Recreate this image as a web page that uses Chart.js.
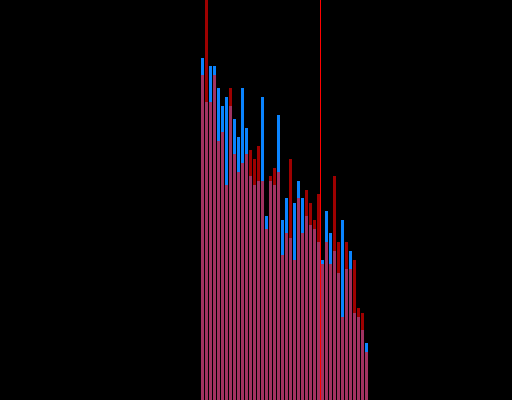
<!DOCTYPE html>
<html>
<head>
<meta charset="utf-8">
<script src="https://cdn.jsdelivr.net/npm/chart.js@4.4.1/dist/chart.umd.min.js"></script>
<style>
  html, body { margin: 0; padding: 0; background: #000; }
  #wrap { width: 512px; height: 400px; position: relative; }
</style>
</head>
<body>
<div id="wrap"><canvas id="chart"></canvas></div>
<script>
// bin positions (x) and the two series
var bins = [50,51,52,53,54,55,56,57,58,59,60,61,62,63,64,65,66,67,68,69,70,
            71,72,73,74,75,76,77,78,79,80,81,82,83,84,85,86,87,88,89,90,91];
var blueValues = [85.5,74.5,83.5,83.5,78,73.5,75.75,73.5,70.25,65.75,78,68,56,53.75,54.75,75.75,46,54.75,53.75,71.25,45,
                  50.5,40.5,49.25,54.75,50.5,46,43.75,42.75,39.5,35,47.25,41.75,37.25,31.75,45,32.75,37.25,21.75,20.75,17.5,14.25];
var redValues = [81.25,110,74.5,81.25,64.75,67,53.75,78,61.5,57,59.25,61.5,62.5,60.25,63.5,54.75,42.75,56,58,57,36.25,
                 41.75,60.25,35,50.5,41.75,52.5,49.25,45,51.5,34,39.5,34,56,39.5,20.75,39.5,32.75,35,23,21.75,12];
var markerX = 79.5;
var yMax = 100;

function points(vals){
  return bins.map(function(b, i){ return {x: b, y: vals[i]}; });
}

var ctx = document.getElementById('chart').getContext('2d');
var chart = new Chart(ctx, {
  type: 'bar',
  data: {
    datasets: [
      {
        type: 'line',
        data: [{x: markerX, y: 0}, {x: markerX, y: yMax}],
        borderColor: '#ff0000',
        borderWidth: 1,
        pointRadius: 0
      },
      {
        data: points(redValues),
        backgroundColor: 'rgba(255,0,0,0.62)'
      },
      {
        data: points(blueValues),
        backgroundColor: '#0a84ff'
      }
    ]
  },
  options: {
    animation: false,
    responsive: true,
    maintainAspectRatio: false,
    layout: { padding: 0 },
    datasets: {
      bar: {
        grouped: false,
        categoryPercentage: 1,
        barPercentage: 0.75,
        borderWidth: 0,
        inflateAmount: 0
      }
    },
    plugins: { legend: { display: false }, tooltip: { enabled: false } },
    scales: {
      x: { type: 'linear', display: false, offset: false, min: -0.625, max: 127.375 },
      y: { display: false, min: 0, max: yMax }
    }
  }
});
</script>
</body>
</html>
